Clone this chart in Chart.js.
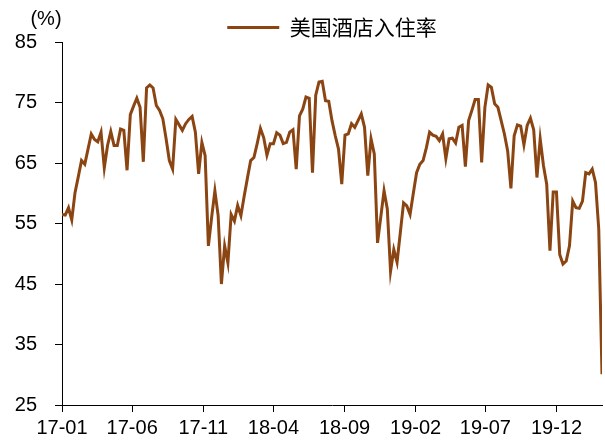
<!DOCTYPE html>
<html><head><meta charset="utf-8">
<script src="https://cdn.jsdelivr.net/npm/chart.js@4"></script>
<style>html,body{margin:0;padding:0;background:#fff}#wrap{width:605px;height:443px;position:relative}</style>
</head><body><div id="wrap"><canvas id="c"></canvas></div>
<script>
// Weekly data, first week starting 2017-01-01
const startYear = 2017, startMonth = 1, startDay = 1;
const weekStep = 7;
const seriesName = '美国酒店入住率';
const unitLabel = '(%)';
const tickLabels = ['17-01','17-06','17-11','18-04','18-09','19-02','19-07','19-12'];
const yTickValues = [25,35,45,55,65,75,85];
const occupancy = [
56.5,56.4,57.6,55.6,60.1,62.7,65.4,64.8,67.3,69.8,
68.9,68.5,70.1,64.2,67.9,70.2,67.9,67.9,70.6,70.4,
63.8,73.0,74.4,75.7,74.2,65.2,77.4,77.9,77.4,74.5,
73.7,72.3,69.0,65.4,64.0,72.2,71.3,70.4,71.5,72.2,
72.7,70.1,63.2,68.4,66.2,51.3,56.0,60.4,56.3,45.0,
51.3,48.5,56.5,55.4,58.0,56.3,59.5,62.5,65.4,65.9,
68.2,70.7,69.2,66.3,68.2,68.2,70.0,69.6,68.2,68.4,
70.1,70.5,64.0,72.8,73.9,75.9,75.7,63.4,76.2,78.4,
78.5,75.3,75.2,72.0,69.5,67.3,61.5,69.6,69.8,71.5,
70.9,72.0,73.1,70.9,62.9,69.0,66.5,51.8,56.1,60.4,
57.4,47.1,50.7,48.6,53.5,58.4,57.9,56.5,60.0,63.4,
64.8,65.4,67.5,70.1,69.6,69.4,68.7,69.8,65.7,69.0,
69.1,68.3,70.9,71.2,64.4,72.0,73.7,75.5,75.5,65.1,
74.2,77.9,77.5,74.8,74.2,72.0,69.8,67.0,60.8,69.5,
71.3,71.1,68.0,71.2,72.4,70.5,62.6,69.0,64.6,61.5,
50.5,60.2,60.2,49.9,48.3,48.8,51.3,58.7,57.6,57.5,
58.7,63.4,63.2,64.0,61.8,54.1,30.1
];

const DAY = 86400000;
const t0 = Date.UTC(startYear, startMonth - 1, startDay);
const points = occupancy.map((v, i) => ({x: i * weekStep, y: v}));
const tickDays = tickLabels.map(s => {
  const [yy, mm] = s.split('-').map(Number);
  return Math.round((Date.UTC(2000 + yy, mm - 1, 1) - t0) / DAY);
});

const lineColor = '#8B4513';
const fontFamily = '"Liberation Sans", Arial, sans-serif';

const unitPlugin = {
  id: 'unitLabel',
  afterDraw(chart) {
    const ctx = chart.ctx;
    ctx.save();
    ctx.font = '20px ' + fontFamily;
    ctx.fillStyle = '#000';
    ctx.textAlign = 'center';
    ctx.textBaseline = 'middle';
    ctx.fillText(unitLabel, 46, 19);
    ctx.restore();
  }
};

new Chart(document.getElementById('c'), {
  type: 'line',
  data: {
    datasets: [{
      label: seriesName,
      data: points,
      borderColor: lineColor,
      backgroundColor: lineColor,
      borderWidth: 3,
      pointRadius: 0,
      tension: 0,
      fill: false
    }]
  },
  options: {
    responsive: true,
    maintainAspectRatio: false,
    animation: false,
    layout: {padding: {top: 16, right: 3, left: 0, bottom: 0}},
    plugins: {
      tooltip: {enabled: false},
      legend: {
        display: true,
        position: 'top',
        fullSize: false,
        maxHeight: 26,
        labels: {
          boxWidth: 52,
          boxHeight: 3,
          color: '#000',
          padding: 1,
          font: {size: 21, family: '"Noto Sans CJK SC", sans-serif'},
          generateLabels: () => [{text: seriesName, fillStyle: lineColor, strokeStyle: lineColor, lineWidth: 0, hidden: false, datasetIndex: 0}]
        }
      }
    },
    scales: {
      x: {
        type: 'linear',
        min: 0,
        max: (occupancy.length - 1) * weekStep,
        afterBuildTicks: axis => { axis.ticks = tickDays.map(v => ({value: v})); },
        afterFit: scale => { scale.height = 38; },
        ticks: {
          autoSkip: false,
          maxRotation: 0,
          color: '#000',
          padding: 4,
          font: {size: 20, family: fontFamily},
          callback: v => { const k = tickDays.indexOf(v); return k >= 0 ? tickLabels[k] : ''; }
        },
        grid: {display: true, drawOnChartArea: false, drawTicks: true, tickLength: 7, color: '#000', lineWidth: 1},
        border: {display: true, color: '#000', width: 1}
      },
      y: {
        min: 25,
        max: 85,
        afterBuildTicks: axis => { axis.ticks = yTickValues.map(v => ({value: v})); },
        afterFit: scale => { scale.width = 62; },
        ticks: {
          color: '#000',
          padding: 18,
          font: {size: 20, family: fontFamily}
        },
        grid: {display: true, drawOnChartArea: false, drawTicks: true, tickLength: 7, color: '#000', lineWidth: 1},
        border: {display: true, color: '#000', width: 1}
      }
    }
  },
  plugins: [unitPlugin]
});
</script>
</body></html>
